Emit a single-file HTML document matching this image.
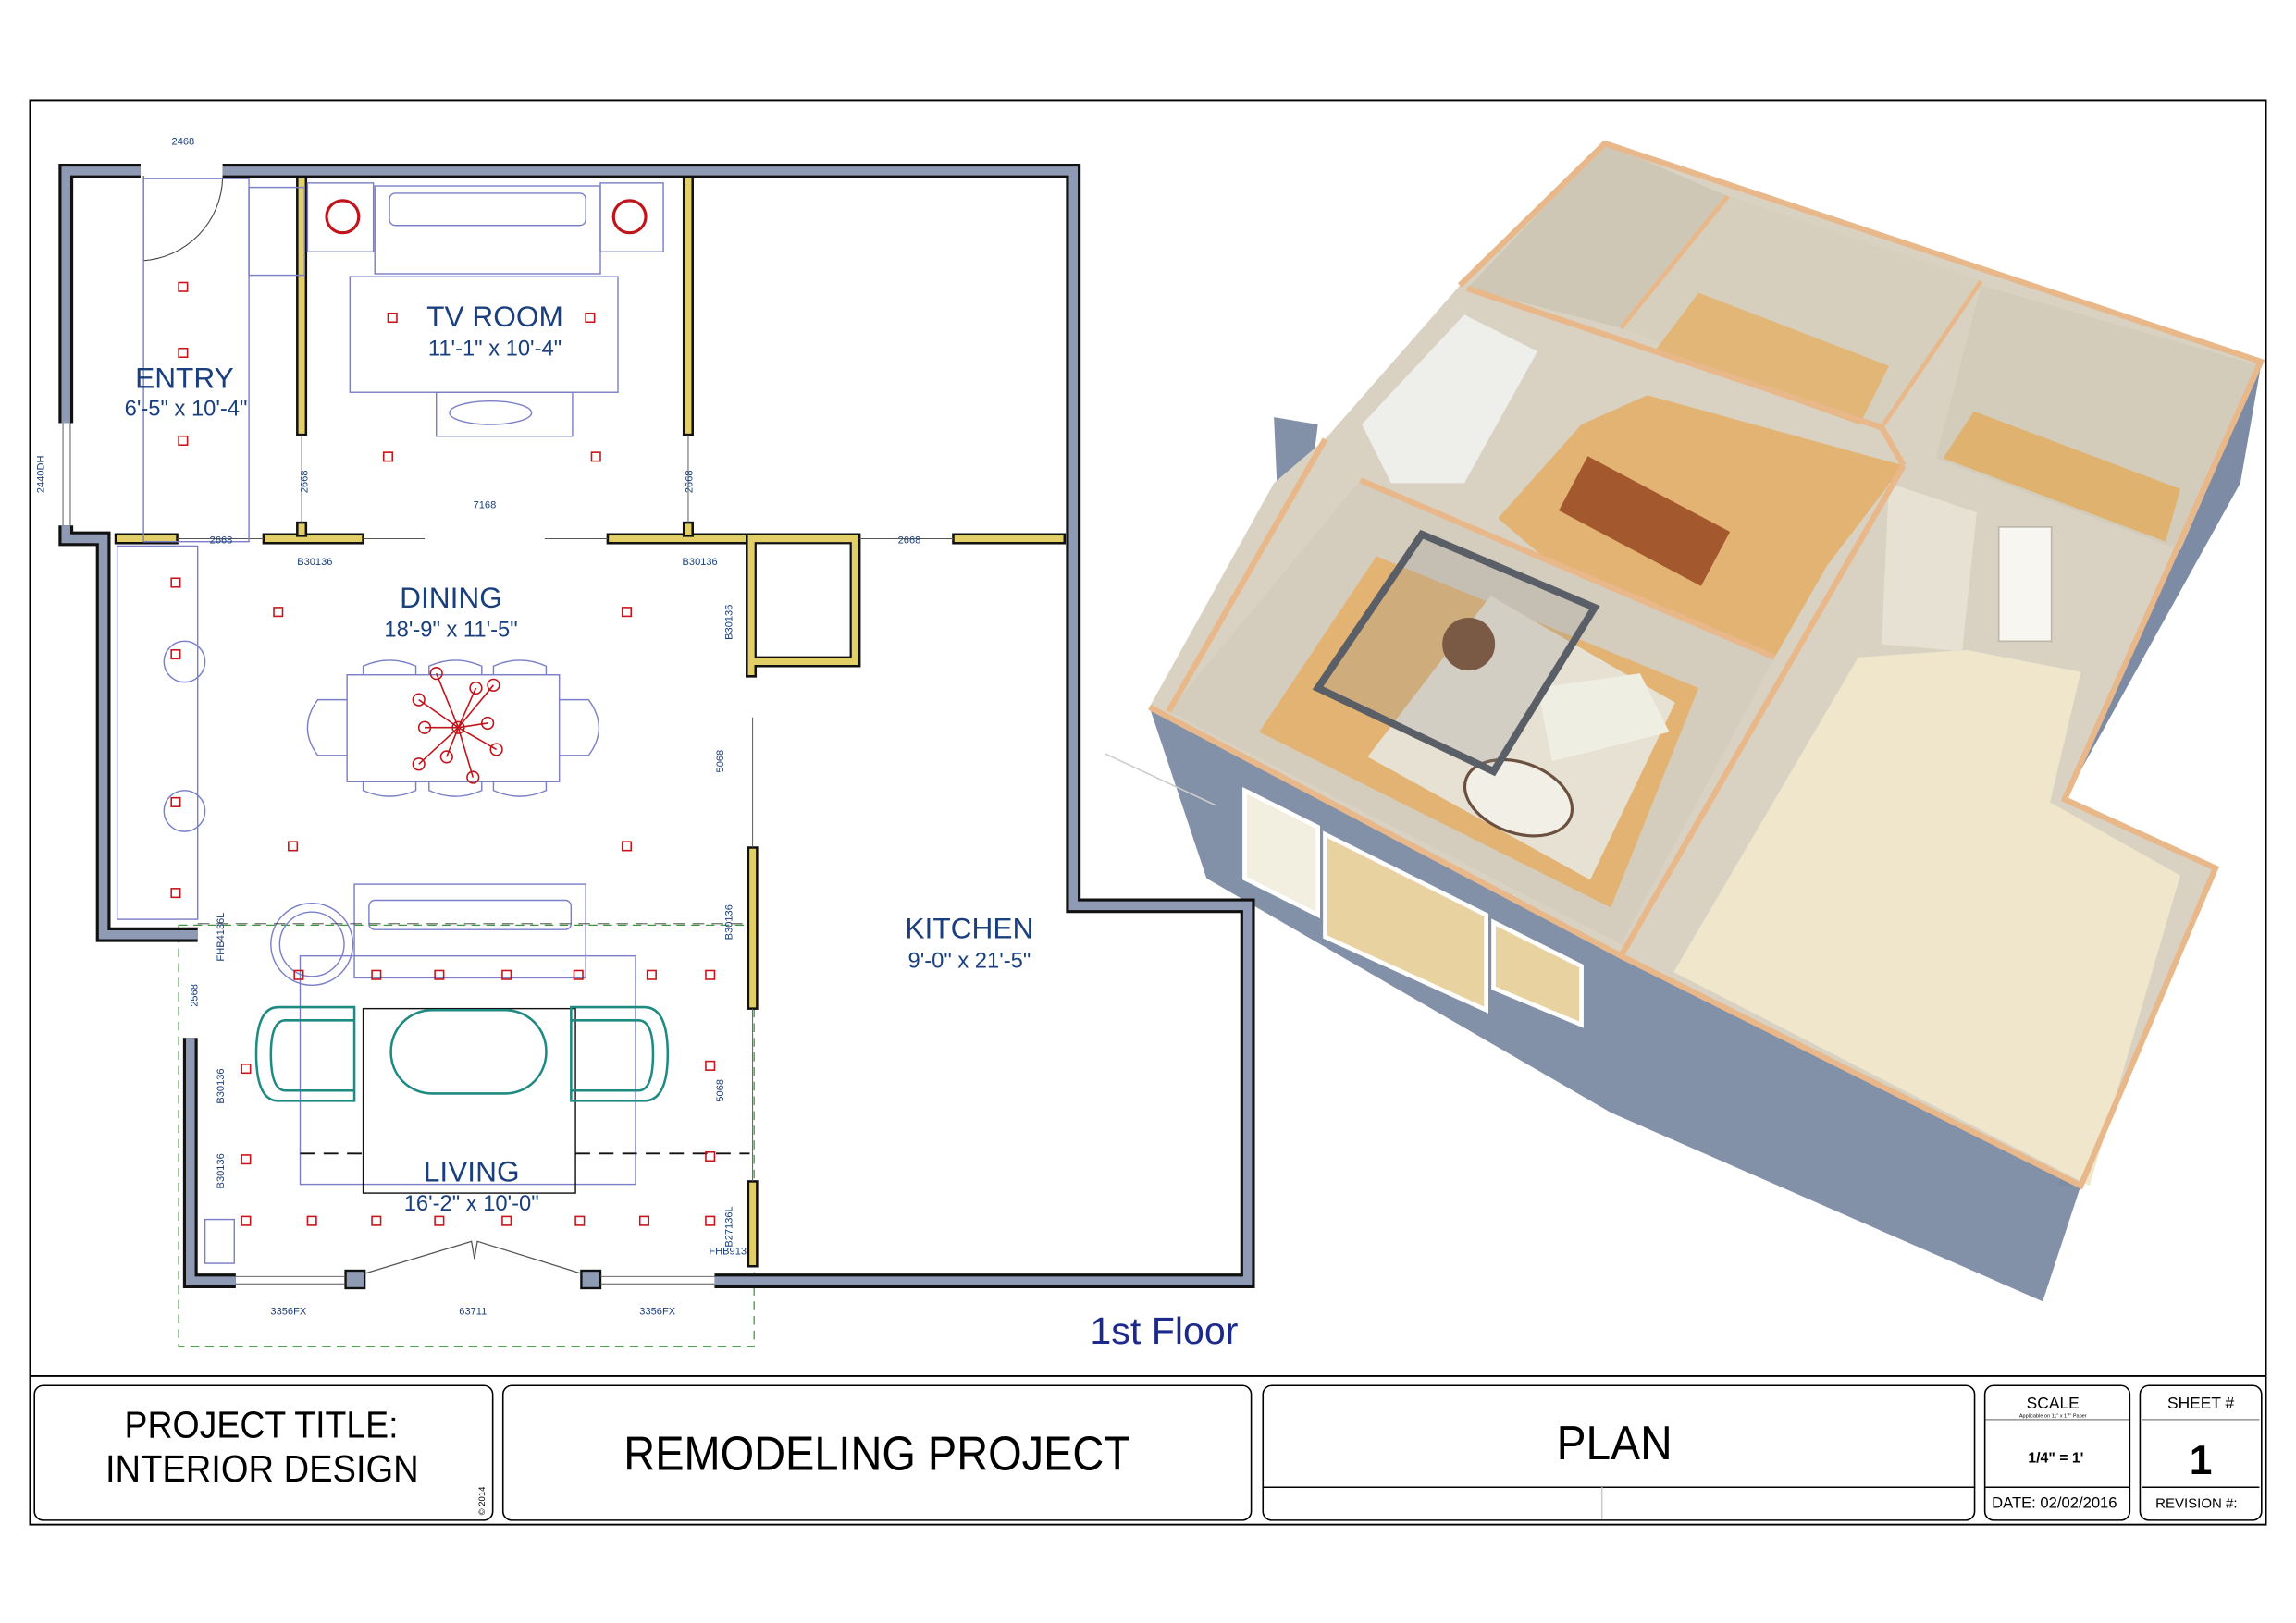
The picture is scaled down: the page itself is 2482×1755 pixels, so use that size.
<!DOCTYPE html>
<html><head><meta charset="utf-8"><style>
html,body{margin:0;padding:0;background:#fff;}
svg{display:block;}
.lab{font-family:"Liberation Sans",sans-serif;fill:#1a3f7e;}
.sm{font-family:"Liberation Sans",sans-serif;fill:#1a3f7e;font-size:7px;}
.tb{font-family:"Liberation Sans Narrow","Liberation Sans",sans-serif;fill:#000;}
</style></head><body>
<svg width="2482" height="1755" viewBox="0 0 1568 1108.7" preserveAspectRatio="none" xmlns="http://www.w3.org/2000/svg">
<rect x="0" y="0" width="1568" height="1109" fill="#fff"/>
<rect x="20.5" y="68.5" width="1527" height="973" fill="none" stroke="#000" stroke-width="1.2"/>
<line x1="20" y1="940" x2="1547" y2="940" stroke="#000" stroke-width="1.2"/>

<!-- ===== 3D VIEW ===== -->
<g>
<polygon points="785,483 1107,653 1421,810 1395,889 1100,760 824,600" fill="#8290a8"/>
<polygon points="1544,250 1530,330 1410,546 1400,540 1520,260" fill="#7d8ba4"/>
<polygon points="1513,593 1500,620 1405,810 1421,810" fill="#7d8ba4"/>
<polygon points="870,285 900,290 895,330 872,330" fill="#8290a8"/>
<polygon points="1096,98 1544,247 1410,546 1513,593 1421,810 1107,653 785,483 870,330 905,300 997,195" fill="#d9d2c2"/>
<polygon points="1002,197 1096,98 1180,134 1107,224" fill="#cfc7b5"/>
<polygon points="1107,224 1180,134 1353,192 1285,292" fill="#d6cfbd"/>
<polygon points="1130,240 1160,200 1290,250 1270,290" fill="#e1b676"/>
<polygon points="1322,313 1353,195 1544,250 1489,376" fill="#d3ccba"/>
<polygon points="1327,313 1348,281 1489,334 1479,370" fill="#e0b270"/>
<polygon points="930,290 1000,215 1050,240 1000,330 950,330" fill="#eeeeea"/>
<polygon points="1023,354 1080,290 1125,270 1300,318 1248,386 1212,449 1100,420" fill="#e2b372"/>
<rect x="1068" y="335" width="110" height="42" fill="#a4582e" transform="rotate(28 1123 356)"/>
<polygon points="798,486 929,328 1212,449 1107,645" fill="#d4cdbd"/>
<polygon points="860,500 940,380 1160,470 1100,620" fill="#e2b372"/>
<polygon points="934,517 1018,407 1144,480 1086,601" fill="#e6e1d2"/>
<polygon points="1050,470 1120,460 1140,500 1060,520" fill="#efeee2"/>
<ellipse cx="1037" cy="545" rx="38" ry="24" fill="#f2f0e6" stroke="#6b5040" stroke-width="2" transform="rotate(20 1037 545)"/>
<polygon points="900,470 971,365 1089,415 1020,527" fill="rgba(150,150,150,0.25)" stroke="#5a5e66" stroke-width="5"/>
<circle cx="1003" cy="440" r="18" fill="#7a5a45"/>
<polygon points="1143,664 1269,449 1343,444 1421,459 1400,548 1489,598 1427,810" fill="#efe6cb"/>
<polygon points="1290,330 1350,350 1340,445 1285,440" fill="#e7e1d3"/>
<rect x="1365" y="360" width="36" height="78" fill="#f7f6f0" stroke="#bcb6a8"/>
<polyline points="785,483 1107,653 1421,810 1513,593 1410,546 1544,247 1096,98 997,195" fill="none" stroke="#e8b88a" stroke-width="4"/>
<polyline points="1002,197 1285,292 1300,318" fill="none" stroke="#e8b88a" stroke-width="4"/>
<polyline points="1180,134 1107,224" fill="none" stroke="#e8b88a" stroke-width="3"/>
<polyline points="1353,192 1285,292" fill="none" stroke="#e8b88a" stroke-width="3"/>
<polyline points="1300,318 1107,653" fill="none" stroke="#e8b88a" stroke-width="4"/>
<polyline points="929,328 1212,449" fill="none" stroke="#e8b88a" stroke-width="4"/>
<polyline points="905,300 798,486" fill="none" stroke="#e8b88a" stroke-width="4"/>
<polygon points="850,540 900,565 900,625 850,600" fill="#f2eee0" stroke="#fff" stroke-width="3"/>
<polygon points="905,570 1015,625 1015,690 905,640" fill="#e8d2a0" stroke="#fff" stroke-width="3"/>
<polygon points="1020,630 1080,660 1080,700 1020,675" fill="#e8d2a0" stroke="#fff" stroke-width="3"/>
<line x1="755" y1="515" x2="830" y2="550" stroke="#ccc" stroke-width="1"/>
</g>

<!-- ===== PLAN ===== -->
<rect x="122" y="632" width="393" height="288" fill="none" stroke="#3a9a3a" stroke-width="0.8" stroke-dasharray="6,4"/>
<g fill="none" stroke-linejoin="miter" stroke-linecap="butt">
<g stroke="#111" stroke-width="10">
<polyline points="96,116.8 45,116.8 45,289"/>
<polyline points="152,116.8 733,116.8 733,618.7 852,618.7 852,875 488,875"/>
<polyline points="45,359 45,368 70.5,368 70.5,638.5 135,638.5"/>
<polyline points="130,709 130,875 161,875"/>
</g>
<g stroke="#8f9ab5" stroke-width="6">
<polyline points="96,116.8 45,116.8 45,289"/>
<polyline points="152,116.8 733,116.8 733,618.7 852,618.7 852,875 488,875"/>
<polyline points="45,359 45,368 70.5,368 70.5,638.5 135,638.5"/>
<polyline points="130,709 130,875 161,875"/>
</g>
</g>
<rect x="236" y="868" width="13" height="12" fill="#8f9ab5" stroke="#111" stroke-width="1.5"/>
<rect x="397" y="868" width="13" height="12" fill="#8f9ab5" stroke="#111" stroke-width="1.5"/>
<line x1="161" y1="872" x2="236" y2="872" stroke="#555" stroke-width="0.6"/><line x1="161" y1="877" x2="236" y2="877" stroke="#555" stroke-width="0.6"/>
<line x1="410" y1="872" x2="488" y2="872" stroke="#555" stroke-width="0.6"/><line x1="410" y1="877" x2="488" y2="877" stroke="#555" stroke-width="0.6"/>
<polyline points="249,870 322,848 324,860 326,848 397,870" fill="none" stroke="#555" stroke-width="0.8"/>
<line x1="43" y1="289" x2="43" y2="359" stroke="#555" stroke-width="0.6"/><line x1="48" y1="289" x2="48" y2="359" stroke="#555" stroke-width="0.6"/>
<path d="M98,120 L98,178 A58,58 0 0 0 152,122" fill="none" stroke="#444" stroke-width="0.7"/>
<g fill="#e3cf68" stroke="#111" stroke-width="1.6">
<rect x="203" y="121" width="6" height="176"/>
<rect x="467" y="121" width="6" height="176"/>
<rect x="79" y="365" width="42" height="6"/>
<rect x="180" y="365" width="68" height="6"/>
<rect x="203" y="357" width="6" height="9"/>
<rect x="415" y="365" width="95" height="6"/>
<rect x="467" y="357" width="6" height="9"/>
<rect x="651" y="365" width="76" height="6"/>
<path d="M510,365 H587 V455 H516 V462 H510 Z"/>
<rect x="511" y="579" width="6" height="110"/>
<rect x="511" y="807" width="6" height="58"/>
</g>
<rect x="516" y="371" width="65" height="78" fill="#fff" stroke="#111" stroke-width="1.4"/>
<line x1="121" y1="368" x2="180" y2="368" stroke="#555" stroke-width="0.6"/>
<line x1="248" y1="368" x2="290" y2="368" stroke="#555" stroke-width="0.6"/>
<line x1="372" y1="368" x2="415" y2="368" stroke="#555" stroke-width="0.6"/>
<line x1="587" y1="368" x2="651" y2="368" stroke="#555" stroke-width="0.6"/>
<line x1="206" y1="297" x2="206" y2="357" stroke="#555" stroke-width="0.6"/>
<line x1="470" y1="297" x2="470" y2="357" stroke="#555" stroke-width="0.6"/>
<line x1="514" y1="490" x2="514" y2="579" stroke="#555" stroke-width="0.6"/>
<line x1="514" y1="689" x2="514" y2="807" stroke="#555" stroke-width="0.6"/>

<g fill="none" stroke="#7b7fc8" stroke-width="0.9">
<rect x="170" y="128" width="38" height="60"/>
<rect x="98" y="122" width="72" height="248"/>
<rect x="210" y="125" width="45" height="47"/>
<rect x="410" y="125" width="43" height="47"/>
<rect x="256" y="127" width="154" height="60"/>
<rect x="266" y="132" width="134" height="22" rx="4"/>
<rect x="239" y="189" width="183" height="79"/>
<rect x="298" y="268" width="93" height="30"/>
<ellipse cx="335" cy="282" rx="28" ry="8"/>
<rect x="80" y="373" width="55" height="255"/>
<circle cx="126" cy="452" r="14"/><circle cx="126" cy="554" r="14"/>
<rect x="237" y="461" width="145" height="73"/>
<path d="M248,461 v-6 q18,-8 36,0 v6 M293,461 v-6 q18,-8 36,0 v6 M337,461 v-6 q18,-8 36,0 v6"/>
<path d="M248,534 v6 q18,8 36,0 v-6 M293,534 v6 q18,8 36,0 v-6 M337,534 v6 q18,8 36,0 v-6"/>
<path d="M237,478 h-20 q-14,19 0,38 h20 M382,478 h20 q14,19 0,38 h-20"/>
<rect x="242" y="604" width="158" height="64"/>
<rect x="252" y="615" width="138" height="20" rx="4"/>
<circle cx="213" cy="645" r="28"/><circle cx="213" cy="645" r="22"/>
<rect x="205" y="653" width="229" height="156"/>
<rect x="140" y="833" width="20" height="30"/>
</g>
<rect x="248" y="689" width="145" height="126" fill="none" stroke="#111" stroke-width="0.9"/>
<g fill="none" stroke="#1e8a82" stroke-width="1.6">
<path d="M242,688 H190 Q175,688 175,720 Q175,752 190,752 H242 Z"/>
<path d="M242,697 H195 Q185,697 185,720 Q185,745 195,745 H242"/>
<path d="M390,688 H440 Q456,688 456,720 Q456,752 440,752 H390 Z"/>
<path d="M390,697 H436 Q446,697 446,720 Q446,745 436,745 H390"/>
<rect x="267" y="690" width="106" height="57" rx="28"/>
</g>
<line x1="205" y1="788" x2="248" y2="788" stroke="#111" stroke-width="1.2" stroke-dasharray="10,6"/>
<line x1="393" y1="788" x2="512" y2="788" stroke="#111" stroke-width="1.2" stroke-dasharray="10,6"/>
<line x1="135" y1="631" x2="512" y2="631" stroke="#333" stroke-width="0.6" stroke-dasharray="8,5"/>
<circle cx="234" cy="148" r="11" fill="none" stroke="#c0141a" stroke-width="2"/>
<circle cx="430" cy="148" r="11" fill="none" stroke="#c0141a" stroke-width="2"/>
<g stroke="#c0141a" stroke-width="1" fill="none">
<circle cx="313" cy="497" r="4"/>
<line x1="313" y1="497" x2="298" y2="460"/><line x1="313" y1="497" x2="325" y2="470"/><line x1="313" y1="497" x2="337" y2="468"/>
<line x1="313" y1="497" x2="286" y2="478"/><line x1="313" y1="497" x2="290" y2="497"/><line x1="313" y1="497" x2="333" y2="494"/>
<line x1="313" y1="497" x2="339" y2="512"/><line x1="313" y1="497" x2="286" y2="522"/><line x1="313" y1="497" x2="305" y2="517"/><line x1="313" y1="497" x2="323" y2="531"/>
<circle cx="298" cy="460" r="4"/><circle cx="325" cy="470" r="4"/><circle cx="337" cy="468" r="4"/><circle cx="286" cy="478" r="4"/><circle cx="290" cy="497" r="4"/><circle cx="333" cy="494" r="4"/><circle cx="339" cy="512" r="4"/><circle cx="286" cy="522" r="4"/><circle cx="305" cy="517" r="4"/><circle cx="323" cy="531" r="4"/>
</g>
<g fill="none" stroke="#c8141a" stroke-width="1">
<rect x="122" y="193" width="6" height="6"/><rect x="122" y="238" width="6" height="6"/><rect x="122" y="298" width="6" height="6"/>
<rect x="265" y="214" width="6" height="6"/><rect x="400" y="214" width="6" height="6"/>
<rect x="262" y="309" width="6" height="6"/><rect x="404" y="309" width="6" height="6"/>
<rect x="187" y="415" width="6" height="6"/><rect x="425" y="415" width="6" height="6"/>
<rect x="117" y="395" width="6" height="6"/><rect x="117" y="444" width="6" height="6"/>
<rect x="197" y="575" width="6" height="6"/><rect x="425" y="575" width="6" height="6"/>
<rect x="117" y="545" width="6" height="6"/><rect x="117" y="607" width="6" height="6"/>
<rect x="201" y="663" width="6" height="6"/><rect x="254" y="663" width="6" height="6"/><rect x="297" y="663" width="6" height="6"/><rect x="343" y="663" width="6" height="6"/><rect x="392" y="663" width="6" height="6"/><rect x="442" y="663" width="6" height="6"/><rect x="482" y="663" width="6" height="6"/>
<rect x="165" y="727" width="6" height="6"/><rect x="482" y="725" width="6" height="6"/>
<rect x="165" y="789" width="6" height="6"/><rect x="482" y="787" width="6" height="6"/>
<rect x="165" y="831" width="6" height="6"/><rect x="210" y="831" width="6" height="6"/><rect x="254" y="831" width="6" height="6"/><rect x="297" y="831" width="6" height="6"/><rect x="343" y="831" width="6" height="6"/><rect x="393" y="831" width="6" height="6"/><rect x="437" y="831" width="6" height="6"/><rect x="482" y="831" width="6" height="6"/>
</g>
<g class="lab" text-anchor="middle">
<text x="126" y="265" font-size="20">ENTRY</text>
<text x="127" y="284" font-size="15">6'-5" x 10'-4"</text>
<text x="338" y="223" font-size="20">TV ROOM</text>
<text x="338" y="243" font-size="15">11'-1" x 10'-4"</text>
<text x="308" y="415" font-size="20">DINING</text>
<text x="308" y="435" font-size="15">18'-9" x 11'-5"</text>
<text x="662" y="641" font-size="20">KITCHEN</text>
<text x="662" y="661" font-size="15">9'-0" x 21'-5"</text>
<text x="322" y="807" font-size="20">LIVING</text>
<text x="322" y="827" font-size="15">16'-2" x 10'-0"</text>
</g>
<text x="795" y="918" font-family="Liberation Sans,sans-serif" font-size="26" fill="#1b2a8c" text-anchor="middle">1st Floor</text>
<g class="sm" text-anchor="middle">
<text x="125" y="99">2468</text><text x="151" y="371">2668</text><text x="621" y="371">2668</text>
<text x="331" y="347">7168</text><text x="215" y="386">B30136</text><text x="478" y="386">B30136</text>
<text x="197" y="898">3356FX</text><text x="323" y="898">63711</text><text x="449" y="898">3356FX</text>
<text x="497" y="857">FHB913</text>
<text transform="translate(210,329) rotate(-90)">2668</text>
<text transform="translate(473,329) rotate(-90)">2668</text>
<text transform="translate(30,324) rotate(-90)">2440DH</text>
<text transform="translate(494,520) rotate(-90)">5068</text>
<text transform="translate(494,745) rotate(-90)">5068</text>
<text transform="translate(135,680) rotate(-90)">2568</text>
<text transform="translate(153,742) rotate(-90)">B30136</text>
<text transform="translate(153,800) rotate(-90)">B30136</text>
<text transform="translate(153,640) rotate(-90)">FHB4136L</text>
<text transform="translate(500,425) rotate(-90)">B30136</text>
<text transform="translate(500,630) rotate(-90)">B30136</text>
<text transform="translate(500,838) rotate(-90)">B27136L</text>
</g>

<!-- ===== TITLE BLOCK ===== -->
<g fill="none" stroke="#000" stroke-width="1">
<rect x="23.5" y="946.5" width="313" height="92" rx="6"/>
<rect x="343.5" y="946.5" width="511" height="92" rx="6"/>
<rect x="862.5" y="946.5" width="486" height="92" rx="6"/>
<rect x="1355.5" y="946.5" width="99" height="92" rx="6"/>
<rect x="1461.5" y="946.5" width="83" height="92" rx="6"/>
<line x1="862" y1="1016" x2="1349" y2="1016"/>
<line x1="1094" y1="1016" x2="1094" y2="1038" stroke="#ccc"/>
<line x1="1356" y1="970" x2="1454" y2="970"/>
<line x1="1356" y1="1016" x2="1454" y2="1016"/>
<line x1="1463" y1="970" x2="1543" y2="970"/>
<line x1="1463" y1="1016" x2="1543" y2="1016"/>
</g>
<g class="tb">
<text x="85" y="982" font-size="26" textLength="187" lengthAdjust="spacingAndGlyphs">PROJECT TITLE:</text>
<text x="72" y="1012" font-size="26" textLength="214" lengthAdjust="spacingAndGlyphs">INTERIOR DESIGN</text>
<text x="426" y="1004" font-size="33" textLength="346" lengthAdjust="spacingAndGlyphs">REMODELING PROJECT</text>
<text x="1063" y="997" font-size="33" textLength="79" lengthAdjust="spacingAndGlyphs">PLAN</text>
</g>
<g font-family="Liberation Sans,sans-serif" fill="#000" text-anchor="middle">
<text x="1402" y="962" font-size="11">SCALE</text>
<text x="1402" y="968" font-size="3.5">Applicable on 11" x 17" Paper</text>
<text x="1404" y="999" font-size="10" font-weight="bold">1/4" = 1'</text>
<text x="1403" y="1030" font-size="10.5">DATE: 02/02/2016</text>
<text x="1503" y="962" font-size="11">SHEET #</text>
<text x="1503" y="1007" font-size="28" font-weight="bold">1</text>
<text x="1500" y="1030" font-size="9.5">REVISION #:</text>
<text transform="translate(331,1035) rotate(-90)" font-size="6" text-anchor="start">© 2014</text>
</g>
</svg>
</body></html>
